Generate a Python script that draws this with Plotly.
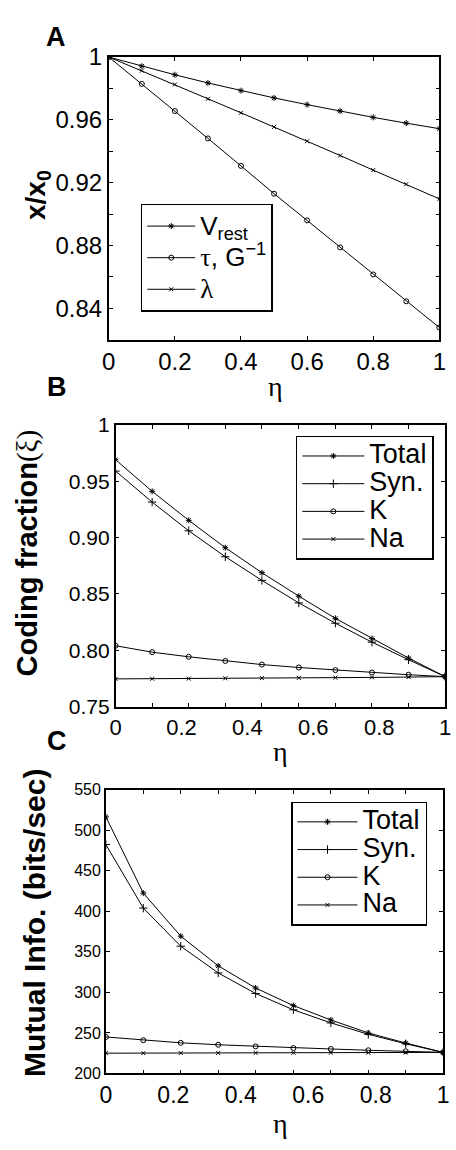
import plotly.graph_objects as go

W, H = 456, 1150
FONT = "Liberation Sans, Arial, Helvetica, sans-serif"
SERIF = "Liberation Serif, Times New Roman, serif"

# ---------------- data ----------------
eta_A = [0.0, 0.1, 0.2, 0.3, 0.4, 0.5, 0.6, 0.7, 0.8, 0.9, 1.0]
vrest_A = [1.0, 0.9942, 0.9887, 0.9835, 0.9786, 0.9740, 0.9697, 0.9656, 0.9616, 0.9579, 0.9544]
tau_A = [1.0, 0.9829, 0.9656, 0.9482, 0.9307, 0.9130, 0.8960, 0.8788, 0.8616, 0.8445, 0.8278]
lam_A = [1.0, 0.9913, 0.9825, 0.9734, 0.9645, 0.9555, 0.9464, 0.9373, 0.9280, 0.9190, 0.9097]

eta_BC = [0.0, 0.111, 0.222, 0.333, 0.444, 0.556, 0.667, 0.778, 0.889, 1.0]
total_B = [0.9691, 0.9410, 0.9153, 0.8910, 0.8688, 0.8480, 0.8283, 0.8104, 0.7931, 0.7766]
syn_B = [0.9590, 0.9315, 0.9060, 0.8830, 0.8620, 0.8420, 0.8240, 0.8072, 0.7916, 0.7766]
k_B = [0.8040, 0.7983, 0.7942, 0.7905, 0.7873, 0.7847, 0.7824, 0.7803, 0.7783, 0.7766]
na_B = [0.7746, 0.7747, 0.7749, 0.7751, 0.7753, 0.7755, 0.7757, 0.7759, 0.7762, 0.7766]

total_C = [516.6, 422.5, 369.4, 332.8, 305.4, 283.7, 266.0, 250.0, 237.5, 226.0]
syn_C = [482.4, 404.0, 357.0, 324.0, 298.6, 278.5, 262.4, 248.3, 236.6, 226.0]
k_C = [245.0, 241.0, 237.8, 235.4, 233.4, 231.4, 230.2, 228.6, 227.4, 226.0]
na_C = [225.0, 225.1, 225.2, 225.3, 225.4, 225.5, 225.6, 225.7, 225.8, 226.0]

xtick_vals = [0, 0.2, 0.4, 0.6, 0.8, 1]
xtick_text = ["0", "0.2", "0.4", "0.6", "0.8", "1"]
ytickA_vals = [0.84, 0.88, 0.92, 0.96, 1.0]
ytickA_text = ["0.84", "0.88", "0.92", "0.96", "1"]
ytickA_minor = [0.86, 0.90, 0.94, 0.98]
ytickB_vals = [0.75, 0.80, 0.85, 0.90, 0.95, 1.0]
ytickB_text = ["0.75", "0.80", "0.85", "0.90", "0.95", "1"]
ytickC_vals = [200, 250, 300, 350, 400, 450, 500, 550]
ytickC_text = ["200", "250", "300", "350", "400", "450", "500", "550"]

# ---------------- figure ----------------
fig = go.Figure()

def px_x(p):
    return p / W

def px_y(p):
    return 1 - p / H

LINE = dict(color="black", width=1)

def big(t, s):
    return "<span style='font-size:%dpx'>%s</span>" % (s, t)

def greek(t):
    return "<span style='font-family:%s'>%s</span>" % (SERIF, t)

def add(x, y, name, symbol, size, xa, ya, legend):
    fig.add_trace(go.Scatter(
        x=x, y=y, name=name, mode="lines+markers",
        line=LINE,
        marker=dict(symbol=symbol, size=size, color="black",
                    line=dict(color="black", width=1)),
        xaxis=xa, yaxis=ya, legend=legend))

# Panel A
add(eta_A, vrest_A, big("V<sub>rest</sub>", 26), "asterisk-open", 5, "x", "y", "legend")
add(eta_A, tau_A, big(greek("τ") + ", G<sup>−1</sup>", 26), "circle-open", 5, "x", "y", "legend")
add(eta_A, lam_A, big(greek("λ"), 27), "x-thin-open", 4, "x", "y", "legend")
# Panel B
add(eta_BC, total_B, big("Total", 27), "asterisk-open", 5, "x2", "y2", "legend2")
add(eta_BC, syn_B, big("Syn.", 27), "cross-thin-open", 6, "x2", "y2", "legend2")
add(eta_BC, k_B, big("K", 27), "circle-open", 5, "x2", "y2", "legend2")
add(eta_BC, na_B, big("Na", 27), "x-thin-open", 4, "x2", "y2", "legend2")
# Panel C
add(eta_BC, total_C, big("Total", 27), "asterisk-open", 5, "x3", "y3", "legend3")
add(eta_BC, syn_C, big("Syn.", 27), "cross-thin-open", 6, "x3", "y3", "legend3")
add(eta_BC, k_C, big("K", 27), "circle-open", 5, "x3", "y3", "legend3")
add(eta_BC, na_C, big("Na", 27), "x-thin-open", 4, "x3", "y3", "legend3")

axis_common = dict(showline=True, linecolor="black", linewidth=1.5, mirror="ticks",
                   showgrid=False, zeroline=False, tickcolor="black",
                   ticklen=4, tickwidth=1)

leg_common = dict(xanchor="left", yanchor="top", bgcolor="white",
                  bordercolor="black", borderwidth=1.5, tracegroupgap=0)

fig.update_layout(
    width=W, height=H,
    margin=dict(l=0, r=0, t=0, b=0),
    paper_bgcolor="white", plot_bgcolor="white",
    font=dict(family=FONT, color="black"),
    showlegend=True,
    # Panel A axes
    xaxis=dict(domain=[px_x(105), px_x(446)], anchor="y", range=[0, 1],
               tickmode="array", tickvals=xtick_vals, ticktext=xtick_text,
               ticks="inside", tickfont=dict(size=24), **axis_common),
    yaxis=dict(domain=[px_y(333), px_y(44)], anchor="x", range=[0.82, 1.0],
               tickmode="array", tickvals=ytickA_vals, ticktext=ytickA_text,
               ticks="inside", tickfont=dict(size=24),
               minor=dict(tickmode="array", tickvals=ytickA_minor, ticks="inside",
                          ticklen=4, tickcolor="black", tickwidth=1),
               **axis_common),
    # Panel B axes
    xaxis2=dict(domain=[px_x(112), px_x(452)], anchor="y2", range=[0, 1],
                tickmode="array", tickvals=xtick_vals, ticktext=xtick_text,
                ticks="", tickfont=dict(size=22),
                minor=dict(tickmode="array", tickvals=eta_BC, ticks="inside",
                           ticklen=4, tickcolor="black", tickwidth=1),
                **axis_common),
    yaxis2=dict(domain=[px_y(708), px_y(420)], anchor="x2", range=[0.75, 1.0],
                tickmode="array", tickvals=ytickB_vals, ticktext=ytickB_text,
                ticks="inside", tickfont=dict(size=21), **axis_common),
    # Panel C axes
    xaxis3=dict(domain=[px_x(102), px_x(450)], anchor="y3", range=[0, 1],
                tickmode="array", tickvals=xtick_vals, ticktext=xtick_text,
                ticks="", tickfont=dict(size=23),
                minor=dict(tickmode="array", tickvals=eta_BC, ticks="inside",
                           ticklen=4, tickcolor="black", tickwidth=1),
                **axis_common),
    yaxis3=dict(domain=[px_y(1083), px_y(793)], anchor="x3", range=[200, 550],
                tickmode="array", tickvals=ytickC_vals, ticktext=ytickC_text,
                ticks="inside", tickfont=dict(size=16), **axis_common),
    legend=dict(x=px_x(138), y=px_y(194), font=dict(size=22, family=FONT),
                itemwidth=48, **leg_common),
    legend2=dict(x=px_x(298), y=px_y(431), font=dict(size=19, family=FONT),
                 itemwidth=62, **leg_common),
    legend3=dict(x=px_x(293), y=px_y(805), font=dict(size=19, family=FONT),
                 itemwidth=60, **leg_common),
)

ann = []
BOLD = dict(family=FONT, weight="bold")
# panel labels
for txt, x, y in [("A", 51, 24), ("B", 52, 381), ("C", 52, 743)]:
    ann.append(dict(text=txt, x=px_x(x), y=px_y(y), xref="paper", yref="paper",
                    showarrow=False, xanchor="center", yanchor="middle",
                    font=dict(size=27, **BOLD)))
# y titles
ann.append(dict(text="x/x<sub>0</sub>", x=px_x(32), y=px_y(185), xref="paper", yref="paper",
                showarrow=False, textangle=-90, xanchor="center", yanchor="middle",
                font=dict(size=28, **BOLD)))
ann.append(dict(text="Coding fraction<span style='font-weight:normal;font-family:%s'>(ξ)</span>" % SERIF,
                x=px_x(21), y=px_y(551), xref="paper", yref="paper",
                showarrow=False, textangle=-90, xanchor="center", yanchor="middle",
                font=dict(size=29, **BOLD)))
ann.append(dict(text="Mutual Info. (bits/sec)", x=px_x(29), y=px_y(929), xref="paper", yref="paper",
                showarrow=False, textangle=-90, xanchor="center", yanchor="middle",
                font=dict(size=30, **BOLD)))
# x titles
for x, y in [(277, 381), (282, 754), (282, 1134)]:
    ann.append(dict(text="η", x=px_x(x), y=px_y(y), xref="paper", yref="paper",
                    showarrow=False, xanchor="center", yanchor="middle",
                    font=dict(size=28, family=SERIF)))
fig.update_layout(annotations=ann)

fig.write_html("out.html")
